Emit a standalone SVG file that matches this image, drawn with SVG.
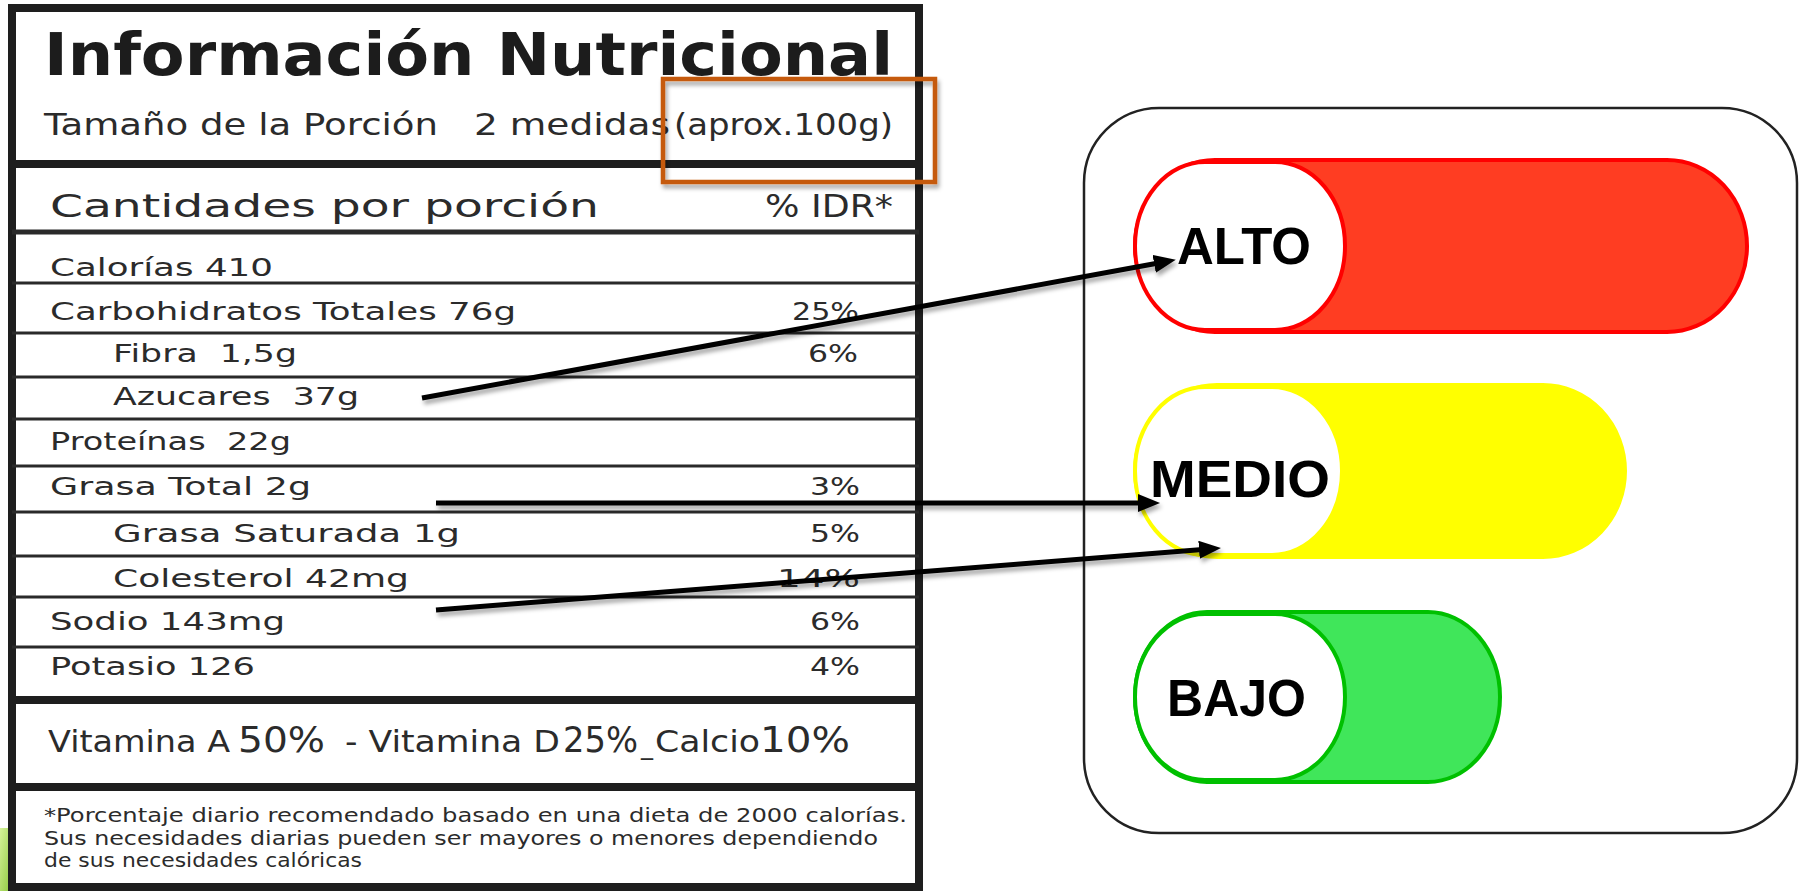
<svg xmlns="http://www.w3.org/2000/svg" width="1802" height="891" viewBox="0 0 1802 891">
<defs>
<style>
.lbl{font-family:"DejaVu Sans","Liberation Sans",sans-serif;fill:#2b2b2b}
.title{font-size:58px;font-weight:bold;fill:#1c1c1c}
.sub{font-size:30px}
.head{font-size:32px}
.row{font-size:25px}
.vit{font-size:30px}
.big{font-size:35px}
.foot{font-size:19px}
.hl{stroke:#2a2a2a;stroke-width:3}
.hm{stroke:#2a2a2a;stroke-width:5}
.hk{stroke:#1e1e1e;stroke-width:8}
.pilltxt{font-family:"Liberation Sans",Arial,sans-serif;font-weight:bold;font-size:52px;fill:#000}
.cap{fill:#fff;stroke-width:4}
.arrow{stroke:#000;stroke-width:5;fill:none;marker-end:url(#ah)}
</style>
<marker id="ah" markerUnits="userSpaceOnUse" markerWidth="22" markerHeight="18" refX="10" refY="9" orient="auto">
<path d="M0,0 L22,9 L0,18 z" fill="#000"/>
</marker>
<filter id="sh" x="-5%" y="-20%" width="110%" height="160%">
<feDropShadow dx="2" dy="4" stdDeviation="2" flood-color="#000" flood-opacity="0.35"/>
</filter>
<linearGradient id="leaf" x1="0" y1="0" x2="1" y2="1">
<stop offset="0" stop-color="#d6f29a"/>
<stop offset="1" stop-color="#8cc83c"/>
</linearGradient>
</defs>
<rect width="1802" height="891" fill="#fff"/>
<rect x="0" y="828" width="12" height="63" fill="url(#leaf)"/>

<g id="nutrition-label">
<rect x="12" y="8" width="907" height="879" fill="#fff" stroke="#1e1e1e" stroke-width="8"/>
<line class="hk" x1="12" y1="164" x2="919" y2="164"/>
<line class="hm" x1="12" y1="232" x2="919" y2="232"/>
<line class="hl" x1="12" y1="283" x2="919" y2="283"/>
<line class="hl" x1="12" y1="333" x2="919" y2="333"/>
<line class="hl" x1="12" y1="377" x2="919" y2="377"/>
<line class="hl" x1="12" y1="419" x2="919" y2="419"/>
<line class="hl" x1="12" y1="466" x2="919" y2="466"/>
<line class="hl" x1="12" y1="512" x2="919" y2="512"/>
<line class="hl" x1="12" y1="556" x2="919" y2="556"/>
<line class="hl" x1="12" y1="597" x2="919" y2="597"/>
<line class="hl" x1="12" y1="647" x2="919" y2="647"/>
<line class="hk" x1="12" y1="700" x2="919" y2="700"/>
<line class="hk" x1="12" y1="787" x2="919" y2="787"/>

<text class="lbl title" x="44" y="75" textLength="849" lengthAdjust="spacingAndGlyphs">Información Nutricional</text>
<text class="lbl sub" x="44" y="135" textLength="394" lengthAdjust="spacingAndGlyphs">Tamaño de la Porción</text>
<text class="lbl sub" x="474" y="135" textLength="196" lengthAdjust="spacingAndGlyphs">2 medidas</text>
<text class="lbl sub" x="674" y="135" textLength="219" lengthAdjust="spacingAndGlyphs">(aprox.100g)</text>
<text class="lbl head" x="50" y="217" textLength="549" lengthAdjust="spacingAndGlyphs">Cantidades por porción</text>
<text class="lbl head" x="765" y="217" textLength="128" lengthAdjust="spacingAndGlyphs">% IDR*</text>

<text class="lbl row" x="50" y="276" textLength="223" lengthAdjust="spacingAndGlyphs">Calorías 410</text>
<text class="lbl row" x="50" y="320" textLength="466" lengthAdjust="spacingAndGlyphs">Carbohidratos Totales 76g</text>
<text class="lbl row" x="792" y="320" textLength="67" lengthAdjust="spacingAndGlyphs">25%</text>
<text class="lbl row" x="113" y="362" textLength="184" lengthAdjust="spacingAndGlyphs" xml:space="preserve">Fibra  1,5g</text>
<text class="lbl row" x="808" y="362" textLength="50" lengthAdjust="spacingAndGlyphs">6%</text>
<text class="lbl row" x="113" y="405" textLength="246" lengthAdjust="spacingAndGlyphs" xml:space="preserve">Azucares  37g</text>
<text class="lbl row" x="50" y="450" textLength="241" lengthAdjust="spacingAndGlyphs" xml:space="preserve">Proteínas  22g</text>
<text class="lbl row" x="50" y="495" textLength="261" lengthAdjust="spacingAndGlyphs">Grasa Total 2g</text>
<text class="lbl row" x="810" y="495" textLength="50" lengthAdjust="spacingAndGlyphs">3%</text>
<text class="lbl row" x="113" y="542" textLength="347" lengthAdjust="spacingAndGlyphs">Grasa Saturada 1g</text>
<text class="lbl row" x="810" y="542" textLength="50" lengthAdjust="spacingAndGlyphs">5%</text>
<text class="lbl row" x="113" y="587" textLength="296" lengthAdjust="spacingAndGlyphs">Colesterol 42mg</text>
<text class="lbl row" x="777" y="587" textLength="83" lengthAdjust="spacingAndGlyphs">14%</text>
<text class="lbl row" x="50" y="630" textLength="235" lengthAdjust="spacingAndGlyphs">Sodio 143mg</text>
<text class="lbl row" x="810" y="630" textLength="50" lengthAdjust="spacingAndGlyphs">6%</text>
<text class="lbl row" x="50" y="675" textLength="205" lengthAdjust="spacingAndGlyphs">Potasio 126</text>
<text class="lbl row" x="810" y="675" textLength="50" lengthAdjust="spacingAndGlyphs">4%</text>

<text class="lbl vit" x="48" y="752" textLength="182" lengthAdjust="spacingAndGlyphs">Vitamina A</text>
<text class="lbl big" x="238" y="752" textLength="87" lengthAdjust="spacingAndGlyphs">50%</text>
<text class="lbl vit" x="345" y="752" textLength="215" lengthAdjust="spacingAndGlyphs">- Vitamina D</text>
<text class="lbl big" x="563" y="752" textLength="75" lengthAdjust="spacingAndGlyphs">25%</text>
<text class="lbl row" x="641" y="754" textLength="12" lengthAdjust="spacingAndGlyphs">_</text>
<text class="lbl vit" x="655" y="752" textLength="195" lengthAdjust="spacingAndGlyphs">Calcio<tspan class="big">10%</tspan></text>

<text class="lbl foot" x="44" y="822" textLength="863" lengthAdjust="spacingAndGlyphs">*Porcentaje diario recomendado basado en una dieta de 2000 calorías.</text>
<text class="lbl foot" x="44" y="845" textLength="834" lengthAdjust="spacingAndGlyphs">Sus necesidades diarias pueden ser mayores o menores dependiendo</text>
<text class="lbl foot" x="44" y="867" textLength="318" lengthAdjust="spacingAndGlyphs">de sus necesidades calóricas</text>
</g>

<g id="highlight" filter="url(#sh)">
<rect x="663" y="79" width="272" height="103" fill="none" stroke="#c55a11" stroke-width="4.5"/>
</g>

<g id="legend-box">
<rect x="1084" y="108" width="713" height="725" rx="75" ry="75" fill="#fff" stroke="#222" stroke-width="2.5"/>
</g>

<g id="alto">
<rect x="1135" y="160" width="612" height="172" rx="80" ry="86" fill="#ff3d22" stroke="#ff0000" stroke-width="4"/>
<rect class="cap" x="1135" y="162" width="210" height="168" rx="70" ry="84" stroke="#ff0000"/>
<text class="pilltxt" x="1177" y="264" textLength="134" lengthAdjust="spacingAndGlyphs">ALTO</text>
</g>

<g id="medio">
<rect x="1135" y="385" width="490" height="172" rx="82" ry="86" fill="#ffff00" stroke="#ffff00" stroke-width="4"/>
<rect class="cap" x="1135" y="387" width="207" height="168" rx="70" ry="84" stroke="#ffff00"/>
<text class="pilltxt" x="1150" y="497" textLength="180" lengthAdjust="spacingAndGlyphs">MEDIO</text>
</g>

<g id="bajo">
<rect x="1135" y="612" width="365" height="170" rx="72" ry="85" fill="#40e65a" stroke="#00c000" stroke-width="4"/>
<rect class="cap" x="1135" y="614" width="210" height="166" rx="70" ry="83" stroke="#00c000"/>
<text class="pilltxt" x="1167" y="716" textLength="139" lengthAdjust="spacingAndGlyphs">BAJO</text>
</g>

<g id="connectors" filter="url(#sh)">
<line class="arrow" x1="422" y1="398" x2="1164" y2="262"/>
<line class="arrow" x1="436" y1="503" x2="1148" y2="503"/>
<line class="arrow" x1="436" y1="610" x2="1209" y2="549"/>
</g>
</svg>
